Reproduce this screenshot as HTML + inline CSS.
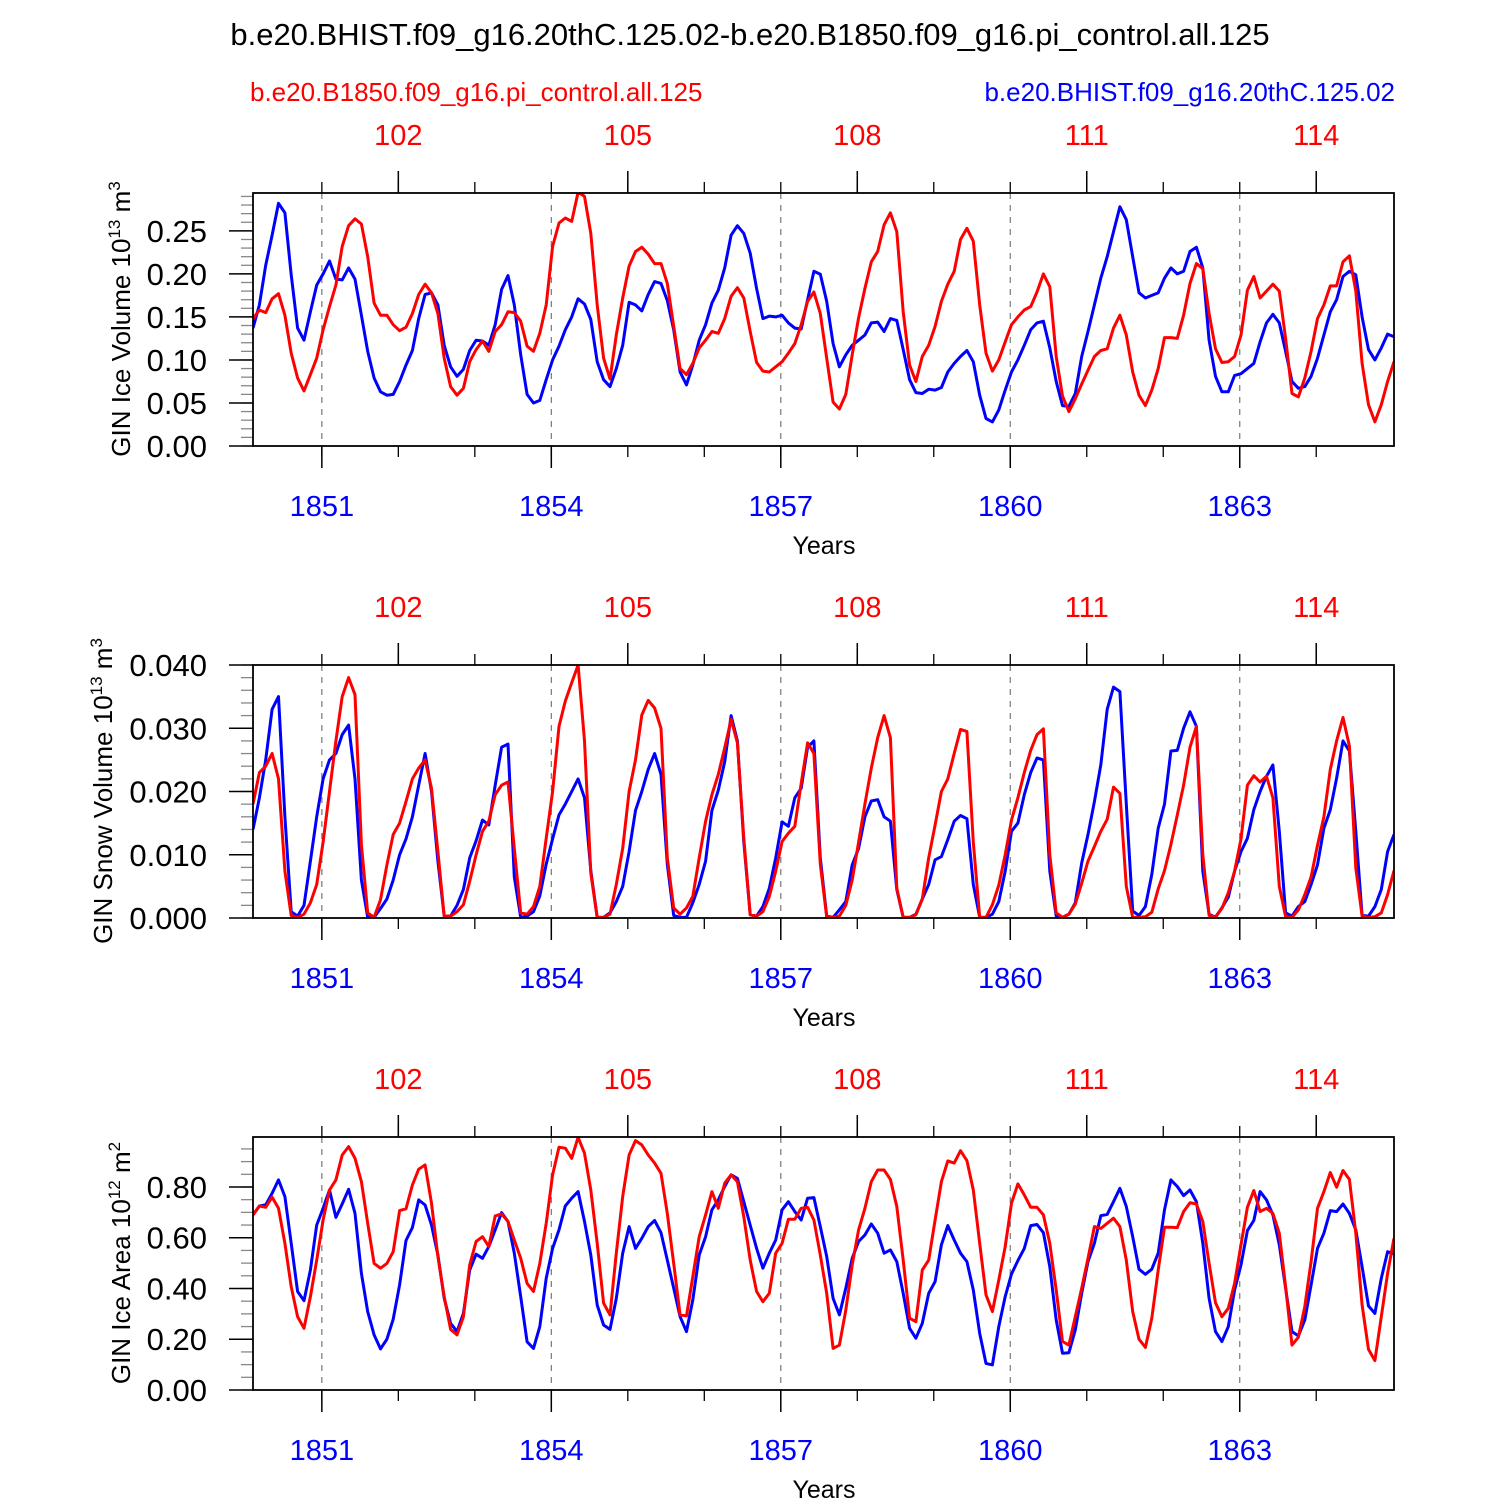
<!DOCTYPE html>
<html><head><meta charset="utf-8"><style>
body{margin:0;background:#fff;}
svg{display:block;font-family:"Liberation Sans",Arial,sans-serif;}
</style></head><body>
<svg id="chart" width="1500" height="1500" viewBox="0 0 1500 1500" xmlns="http://www.w3.org/2000/svg">
<text x="750" y="45" font-size="31" text-anchor="middle">b.e20.BHIST.f09_g16.20thC.125.02-b.e20.B1850.f09_g16.pi_control.all.125</text>
<text x="250" y="101" font-size="26" fill="#ff0000">b.e20.B1850.f09_g16.pi_control.all.125</text>
<text x="1395" y="101" font-size="26" fill="#0000ff" text-anchor="end">b.e20.BHIST.f09_g16.20thC.125.02</text>
</svg>
<script>
// ---- data ----
var topYearLabels = ["102","105","108","111","114"];
var bottomYearLabels = ["1851","1854","1857","1860","1863"];
var iceVolBlue = [0.137,0.164,0.21,0.245,0.282,0.271,0.199,0.137,0.123,0.156,0.187,0.2,
0.215,0.194,0.193,0.207,0.194,0.152,0.11,0.079,0.063,0.059,0.06,0.075,
0.094,0.111,0.148,0.176,0.178,0.164,0.117,0.092,0.081,0.089,0.111,0.123,
0.122,0.117,0.141,0.182,0.198,0.164,0.106,0.06,0.05,0.053,0.077,0.1,
0.116,0.135,0.15,0.171,0.165,0.147,0.098,0.077,0.069,0.09,0.117,0.167,
0.164,0.157,0.176,0.191,0.189,0.169,0.135,0.086,0.071,0.094,0.123,0.141,
0.166,0.181,0.207,0.245,0.256,0.247,0.224,0.183,0.148,0.151,0.15,0.152,
0.143,0.137,0.136,0.17,0.203,0.1996,0.168,0.119,0.092,0.106,0.117,0.123,
0.129,0.143,0.144,0.133,0.148,0.146,0.112,0.077,0.062,0.061,0.066,0.065,
0.068,0.086,0.096,0.104,0.111,0.098,0.059,0.032,0.028,0.042,0.065,0.086,
0.1,0.117,0.135,0.143,0.145,0.114,0.075,0.047,0.046,0.061,0.104,0.133,
0.164,0.195,0.22,0.249,0.278,0.263,0.22,0.178,0.172,0.175,0.178,0.195,
0.207,0.2,0.203,0.226,0.231,0.207,0.123,0.081,0.063,0.063,0.082,0.084,
0.09,0.096,0.121,0.143,0.153,0.143,0.11,0.075,0.067,0.069,0.081,0.102,
0.129,0.156,0.17,0.197,0.203,0.199,0.15,0.112,0.1,0.114,0.13,0.127];
var iceVolRed = [0.148,0.158,0.155,0.171,0.177,0.152,0.108,0.079,0.064,0.083,0.102,0.135,
0.162,0.187,0.232,0.256,0.264,0.258,0.22,0.166,0.152,0.152,0.141,0.134,
0.138,0.154,0.176,0.188,0.178,0.154,0.102,0.069,0.059,0.067,0.098,0.112,
0.122,0.11,0.133,0.141,0.156,0.155,0.145,0.116,0.11,0.131,0.164,0.232,
0.259,0.265,0.261,0.295,0.29,0.247,0.164,0.102,0.078,0.129,0.172,0.209,
0.226,0.231,0.223,0.212,0.212,0.189,0.139,0.09,0.083,0.096,0.114,0.123,
0.133,0.131,0.148,0.174,0.184,0.172,0.133,0.097,0.087,0.086,0.092,0.098,
0.108,0.119,0.141,0.168,0.179,0.154,0.102,0.051,0.043,0.06,0.106,0.149,
0.183,0.214,0.226,0.257,0.271,0.249,0.156,0.094,0.075,0.104,0.117,0.139,
0.168,0.188,0.203,0.24,0.253,0.238,0.164,0.108,0.087,0.1,0.121,0.141,
0.15,0.158,0.162,0.179,0.2,0.185,0.104,0.058,0.04,0.055,0.072,0.088,
0.104,0.111,0.113,0.137,0.152,0.129,0.086,0.059,0.047,0.065,0.09,0.126,
0.126,0.125,0.152,0.189,0.212,0.206,0.154,0.113,0.097,0.098,0.104,0.129,
0.181,0.197,0.172,0.18,0.188,0.18,0.125,0.061,0.057,0.079,0.11,0.148,
0.164,0.186,0.186,0.214,0.221,0.18,0.096,0.048,0.028,0.048,0.075,0.098];
var snowBlue = [0.014,0.019,0.025,0.033,0.035,0.016,0.001,0.0003,0.002,0.009,0.016,0.022,
0.025,0.026,0.029,0.0305,0.022,0.006,0.0001,0.0001,0.0015,0.003,0.006,0.010,
0.0125,0.016,0.021,0.026,0.020,0.009,0.0003,0.0003,0.002,0.0045,0.0095,0.0122,
0.0155,0.0147,0.021,0.027,0.0275,0.0065,0.0001,0.0003,0.001,0.0035,0.0085,0.0125,
0.0163,0.018,0.020,0.022,0.019,0.0075,0.0001,0.0001,0.0008,0.0026,0.005,0.0105,
0.017,0.020,0.0235,0.026,0.0227,0.0085,0.0004,0.0001,0.0001,0.0024,0.0053,0.009,
0.017,0.0202,0.0247,0.032,0.028,0.012,0.0005,0.0003,0.0018,0.0047,0.0095,0.0152,
0.0145,0.019,0.0205,0.027,0.028,0.0095,0.0003,0.0001,0.0013,0.0026,0.0084,0.011,
0.016,0.0185,0.0187,0.016,0.0153,0.0045,0.0001,0.0001,0.0006,0.003,0.0053,0.0092,
0.0097,0.0124,0.0153,0.0162,0.0157,0.0053,0.0001,0.0001,0.0006,0.0026,0.0074,0.0137,
0.015,0.0195,0.023,0.0253,0.025,0.0074,0.0003,0.0001,0.0006,0.0024,0.0087,0.0132,
0.0184,0.0242,0.033,0.0365,0.0358,0.018,0.0011,0.0004,0.0018,0.0069,0.0142,0.018,
0.0264,0.0265,0.030,0.0326,0.0303,0.0074,0.0006,0.0001,0.0016,0.0033,0.0074,0.0105,
0.0126,0.0171,0.020,0.0224,0.0242,0.0137,0.0008,0.0003,0.0018,0.0026,0.0053,0.0084,
0.0142,0.0171,0.0221,0.028,0.0264,0.0137,0.0004,0.0003,0.0018,0.0045,0.0105,0.0132];
var snowRed = [0.018,0.023,0.024,0.026,0.022,0.0074,0.0004,0.0001,0.0006,0.0024,0.0053,0.012,
0.020,0.028,0.035,0.038,0.0353,0.0116,0.0008,0.0001,0.0029,0.0084,0.0132,0.015,
0.0184,0.022,0.0237,0.025,0.0205,0.0105,0.0003,0.0003,0.001,0.0021,0.0058,0.010,
0.0137,0.0153,0.0195,0.021,0.0215,0.011,0.0008,0.0006,0.0018,0.005,0.0126,0.020,
0.0303,0.0343,0.0372,0.040,0.028,0.0071,0.0001,0.0001,0.0006,0.0053,0.011,0.020,
0.025,0.0321,0.0344,0.0332,0.030,0.0095,0.0016,0.0006,0.0016,0.0034,0.0095,0.0153,
0.0195,0.0227,0.0269,0.0314,0.0277,0.0126,0.0005,0.0003,0.001,0.0034,0.0074,0.0121,
0.0134,0.0145,0.0213,0.0277,0.026,0.0085,0.0002,0.0001,0.0003,0.002,0.006,0.012,
0.018,0.0237,0.0285,0.032,0.0285,0.0047,0.0001,0.0001,0.0005,0.003,0.0095,0.0147,
0.020,0.022,0.026,0.0298,0.0295,0.012,0.0001,0.0001,0.0021,0.0052,0.010,0.0155,
0.019,0.023,0.0265,0.029,0.0299,0.010,0.0008,0.0001,0.0006,0.0022,0.0055,0.009,
0.0113,0.0137,0.0156,0.0207,0.0197,0.005,0.0001,0.0001,0.0002,0.0009,0.0046,0.0075,
0.0116,0.0163,0.021,0.027,0.0303,0.010,0.0004,0.0002,0.0015,0.004,0.0074,0.0125,
0.021,0.0225,0.0215,0.0224,0.019,0.005,0.0002,0.0001,0.0013,0.0037,0.0065,0.0115,
0.016,0.0235,0.028,0.0317,0.0272,0.0079,0.0003,0.0001,0.0002,0.0008,0.0037,0.0075];
var areaBlue = [0.69,0.725,0.73,0.775,0.828,0.762,0.578,0.388,0.352,0.473,0.65,0.716,
0.788,0.68,0.733,0.791,0.696,0.46,0.309,0.217,0.162,0.2,0.279,0.414,
0.589,0.64,0.749,0.729,0.65,0.532,0.361,0.263,0.23,0.302,0.473,0.535,
0.519,0.565,0.631,0.699,0.664,0.539,0.368,0.19,0.164,0.25,0.44,0.558,
0.631,0.725,0.756,0.782,0.664,0.532,0.335,0.256,0.239,0.361,0.539,0.644,
0.558,0.598,0.644,0.668,0.62,0.512,0.401,0.289,0.23,0.355,0.532,0.604,
0.71,0.749,0.802,0.848,0.834,0.742,0.65,0.558,0.48,0.539,0.591,0.71,
0.742,0.703,0.67,0.756,0.758,0.644,0.526,0.361,0.296,0.401,0.519,0.585,
0.611,0.654,0.618,0.539,0.552,0.506,0.381,0.243,0.204,0.263,0.381,0.427,
0.572,0.648,0.591,0.539,0.506,0.394,0.223,0.105,0.099,0.25,0.368,0.457,
0.51,0.558,0.648,0.652,0.62,0.486,0.276,0.145,0.147,0.237,0.381,0.506,
0.578,0.687,0.692,0.742,0.795,0.723,0.604,0.476,0.456,0.476,0.539,0.71,
0.828,0.802,0.766,0.788,0.742,0.578,0.361,0.23,0.191,0.25,0.394,0.493,
0.628,0.668,0.782,0.749,0.69,0.572,0.401,0.23,0.213,0.276,0.414,0.558,
0.618,0.707,0.703,0.733,0.696,0.631,0.486,0.331,0.302,0.44,0.545,0.536];
var areaRed = [0.69,0.725,0.72,0.76,0.716,0.578,0.407,0.289,0.243,0.368,0.512,0.67,
0.788,0.828,0.926,0.959,0.913,0.821,0.657,0.499,0.48,0.499,0.545,0.707,
0.714,0.808,0.87,0.887,0.736,0.526,0.368,0.239,0.217,0.289,0.493,0.585,
0.604,0.565,0.686,0.694,0.664,0.591,0.519,0.42,0.388,0.499,0.657,0.848,
0.957,0.953,0.913,0.996,0.933,0.788,0.578,0.342,0.296,0.539,0.762,0.926,
0.983,0.966,0.926,0.894,0.854,0.696,0.499,0.296,0.292,0.447,0.604,0.69,
0.782,0.716,0.815,0.848,0.821,0.683,0.512,0.388,0.348,0.381,0.539,0.578,
0.673,0.673,0.716,0.72,0.67,0.532,0.381,0.164,0.177,0.315,0.493,0.631,
0.716,0.821,0.867,0.867,0.83,0.723,0.512,0.283,0.269,0.473,0.512,0.67,
0.821,0.903,0.894,0.943,0.904,0.788,0.578,0.375,0.309,0.434,0.565,0.736,
0.812,0.769,0.72,0.72,0.69,0.578,0.394,0.191,0.177,0.289,0.401,0.519,
0.644,0.637,0.657,0.677,0.644,0.512,0.309,0.2,0.168,0.283,0.473,0.641,
0.641,0.64,0.703,0.738,0.733,0.664,0.499,0.344,0.289,0.322,0.42,0.572,
0.72,0.786,0.703,0.716,0.696,0.618,0.407,0.177,0.208,0.329,0.506,0.716,
0.782,0.857,0.799,0.865,0.83,0.618,0.335,0.16,0.116,0.289,0.46,0.598];

var iceVolTicks = ["0.00","0.05","0.10","0.15","0.20","0.25"];
var snowTicks = ["0.000","0.010","0.020","0.030","0.040"];
var areaTicks = ["0.00","0.20","0.40","0.60","0.80"];

var NS = "http://www.w3.org/2000/svg";
var svg = document.getElementById('chart');
var X0 = 253, X1 = 1394, T0 = 1850.1, T1 = 1850.1 + 179/12;
function xScale(t){ return X0 + (t - T0) / (T1 - T0) * (X1 - X0); }
function timeOf(i){ return T0 + i / 12; }
function mk(tag, attrs){ var e = document.createElementNS(NS, tag); for (var k in attrs) e.setAttribute(k, attrs[k]); svg.appendChild(e); return e; }

function panel(idx, top, ymax, tickLabels, tickStep, minorStep, blue, red, titleMain, sup, unit, titleX){
  var bot = top + 253;
  function yScale(v){ return bot - v / ymax * (bot - top); }
  var g;
  for (var k = 0; k < bottomYearLabels.length; k++){
    var x = xScale(+bottomYearLabels[k]);
    g = mk('line', {x1:x, x2:x, y1:top, y2:bot, stroke:'#777', 'stroke-width':1.2, 'stroke-dasharray':'6,6'});
    
    
    var lb = mk('text', {x:x, y:bot+70, 'font-size':29, fill:'#0000ff', 'text-anchor':'middle'});
    lb.textContent = bottomYearLabels[k];
    
    
    var tk = mk('line', {x1:x, x2:x, y1:bot, y2:bot+22, stroke:'#000', 'stroke-width':1.5});
    
    
  }
  for (var yr = 1851; yr <= 1864; yr++){
    var xm = xScale(yr);
    var mt = mk('line', {x1:xm, x2:xm, y1:bot, y2:bot+11, stroke:'#000', 'stroke-width':1.3});
    
    
    var tt = mk('line', {x1:xm, x2:xm, y1:top, y2:top-11, stroke:'#000', 'stroke-width':1.3});
    
    
  }
  for (var k2 = 0; k2 < topYearLabels.length; k2++){
    var xt = xScale(+topYearLabels[k2] + 1750);
    var tl = mk('text', {x:xt, y:top-48, 'font-size':29, fill:'#ff0000', 'text-anchor':'middle'});
    tl.textContent = topYearLabels[k2];
    
    
    var ttk = mk('line', {x1:xt, x2:xt, y1:top, y2:top-22, stroke:'#000', 'stroke-width':1.5});
    
    
  }
  for (var v = 0; v <= ymax + 1e-9; v += minorStep){
    var yy = yScale(v);
    var mn = mk('line', {x1:X0-12, x2:X0, y1:yy, y2:yy, stroke:'#888', 'stroke-width':1.3});
    
    
  }
  for (var j = 0; j < tickLabels.length; j++){
    var yv = yScale(+tickLabels[j]);
    var mj = mk('line', {x1:X0-24, x2:X0, y1:yv, y2:yv, stroke:'#000', 'stroke-width':1.5});
    
    
    var yl = mk('text', {x:207, y:yv+11, 'font-size':31, 'text-anchor':'end'});
    yl.textContent = tickLabels[j];
    
    
  }
  function series(vals, color, name){
    var d = '';
    for (var i = 0; i < vals.length; i++){
      d += (i ? 'L' : 'M') + xScale(timeOf(i)).toFixed(1) + ',' + yScale(vals[i]).toFixed(1);
    }
    var p = mk('path', {d:d, fill:'none', stroke:color, 'stroke-width':3, 'stroke-linejoin':'round', 'clip-path':'url(#clip'+idx+')'});
    
    
  }
  var cp = mk('clipPath', {id:'clip'+idx});
  var cr = document.createElementNS(NS, 'rect');
  cr.setAttribute('x', X0); cr.setAttribute('y', top); cr.setAttribute('width', X1-X0); cr.setAttribute('height', bot-top);
  cp.appendChild(cr);
  series(blue, '#0000ff', 'bhist-line');
  series(red, '#ff0000', 'pi-control-line');
  var fr = mk('rect', {x:X0, y:top, width:X1-X0, height:bot-top, fill:'none', stroke:'#000', 'stroke-width':1.8});
  
  
  var xt2 = mk('text', {x:824, y:bot+108, 'font-size':25, 'text-anchor':'middle'});
  xt2.textContent = 'Years';
  
  
  var cy = top + 126;
  var yt = mk('text', {x:titleX, y:cy, 'font-size':26, 'text-anchor':'middle', transform:'rotate(-90 '+titleX+' '+cy+')'});
  
  
  yt.innerHTML = titleMain + ' 10<tspan dy="-10" font-size="17">' + sup + '</tspan><tspan dy="10"> m</tspan><tspan dy="-10" font-size="17">' + unit + '</tspan>';
}
panel(1, 193, 0.294, iceVolTicks, 0.05, 0.01, iceVolBlue, iceVolRed, 'GIN Ice Volume', '13', '3', 130);
panel(2, 665, 0.040, snowTicks, 0.01, 0.002, snowBlue, snowRed, 'GIN Snow Volume', '13', '3', 112);
panel(3, 1137, 0.997, areaTicks, 0.2, 0.05, areaBlue, areaRed, 'GIN Ice Area', '12', '2', 130);
</script>
</body></html>
